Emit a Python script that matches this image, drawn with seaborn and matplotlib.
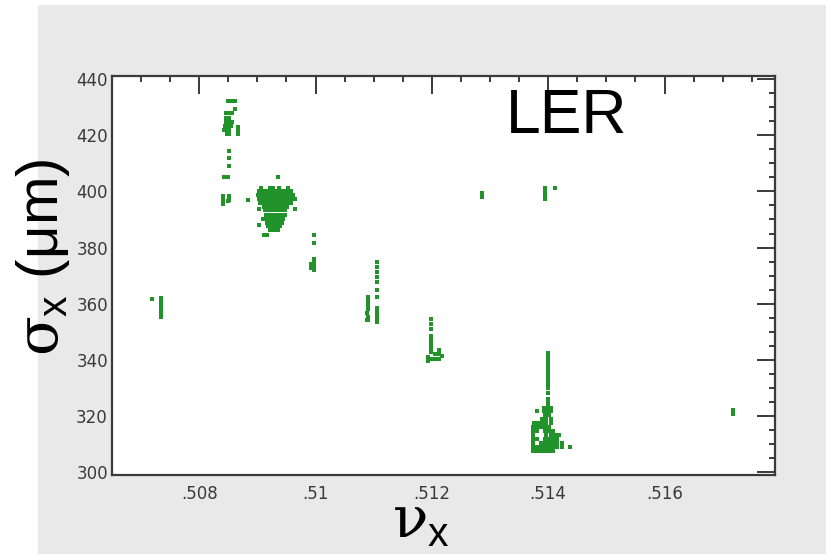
import matplotlib
matplotlib.use("Agg")
import matplotlib.pyplot as plt
import pandas as pd
import seaborn as sns
from matplotlib.patches import Rectangle
from matplotlib.ticker import MultipleLocator

# ---- measured beam size vs horizontal tune (LER) ----
# isolated groups: horizontal tune and beam size (um)
nu_a = [.50719, .50735, .50735, .50735, .50735, .50735, .50735]
sig_a = [361.5, 362.0, 360.6, 359.2, 357.8, 356.4, 355.3]

nu_b = [.50849, .50855, .50861, .50861, .50846, .50851, .50856,
        .50846, .50851, .50846, .50851, .50856, .50844, .50849, .50854,
        .50842, .50847, .50852, .50866, .50847, .50852, .50866, .50866,
        .50851, .50851, .50851, .50843, .50850,
        .50841, .50841, .50841, .50852, .50852, .50849, .50884]
sig_b = [432.3, 432.3, 432.3, 429.4, 428.0, 428.0, 428.0,
         426.2, 426.2, 424.7, 424.7, 424.7, 423.3, 423.3, 423.3,
         421.9, 421.9, 421.9, 421.9, 420.5, 420.5, 420.5, 423.0,
         414.4, 412.0, 408.9, 405.0, 405.0,
         398.3, 397.0, 395.6, 398.2, 396.8, 396.5, 397.0]

# dense group near .5092, one row of tunes per beam-size level
sig_c_rows = [401.2, 400.0, 398.8, 397.4, 396.0, 394.6, 393.2,
              391.7, 390.3, 388.9, 387.5, 386.3, 384.6]
nu_c_rows = [
    [.50906, .50921, .50926, .50937, .50952],
    [.50903, .50909, .50916, .50923, .50930, .50937, .50944, .50951, .50957],
    [.50901, .50908, .50915, .50921, .50928, .50935, .50942, .50949, .50956, .50961],
    [.50903, .50909, .50916, .50923, .50930, .50937, .50944, .50951, .50957, .50964],
    [.50904, .50911, .50918, .50925, .50932, .50939, .50945, .50952, .50957],
    [.50911, .50918, .50925, .50932, .50939, .50945, .50951],
    [.50913, .50920, .50927, .50933, .50940, .50947],
    [.50915, .50921, .50928, .50935, .50942, .50947],
    [.50909, .50916, .50923, .50930, .50937, .50944],
    [.50916, .50923, .50930, .50937, .50942],
    [.50918, .50925, .50932, .50939],
    [.50921, .50928, .50935],
    [.50911, .50916],
]
nu_c_extra = [.50935, .50903, .50903, .50964]
sig_c_extra = [405.0, 393.9, 388.2, 393.9]

nu_d = [.50998, .50998, .50998, .50998, .50998, .50998, .50993, .50993]
sig_d = [384.6, 381.6, 376.1, 374.7, 373.3, 371.9, 374.0, 372.6]

nu_e = [.51105, .51105, .51105, .51105, .51105, .51105, .51105,
        .51105, .51105, .51105, .51105, .51105,
        .51091, .51091, .51091, .51091, .51088, .51091, .51088, .51091]
sig_e = [374.7, 372.9, 371.2, 369.4, 367.6, 364.8, 362.3,
         358.4, 357.0, 355.6, 354.2, 353.4,
         362.3, 360.9, 359.5, 358.1, 356.6, 355.2, 354.3, 354.3]

nu_f = [.51198, .51198, .51198, .51198, .51198, .51198, .51198, .51198,
        .51205, .51213, .51213, .51193, .51198, .51203, .51208, .51213,
        .51193, .51217]
sig_f = [354.7, 352.8, 351.0, 348.5, 347.1, 345.7, 344.3, 342.9,
         342.0, 343.5, 342.1, 341.0, 340.3, 340.3, 340.3, 340.3,
         339.6, 341.5]

nu_g = [.51287, .51287, .51395, .51395, .51395, .51395, .51412]
sig_g = [399.3, 398.0, 401.3, 399.9, 398.5, 397.4, 401.2]

# group near .514: vertical streak plus dense foot
nu_h_streak = [.51399] * 14
sig_h_streak = [342.6, 341.3, 339.9, 338.5, 337.1, 335.7, 334.2,
                332.8, 331.4, 330.0, 328.3, 326.2, 324.8, 323.6]
sig_h_rows = [322.9, 321.8, 320.4, 319.0, 317.6, 316.1, 314.7,
              313.3, 311.9, 310.5, 309.0, 307.6]
nu_h_rows = [
    [.51393, .51400, .51405],
    [.51380, .51393, .51400, .51405],
    [.51395, .51402],
    [.51390, .51397, .51404],
    [.51376, .51383, .51390, .51397, .51404],
    [.51374, .51381, .51388, .51395, .51402],
    [.51374, .51381, .51395, .51402, .51409],
    [.51374, .51397, .51404, .51411, .51418],
    [.51374, .51381, .51395, .51402, .51409, .51416],
    [.51374, .51388, .51395, .51402, .51409, .51416, .51423],
    [.51374, .51381, .51388, .51395, .51402, .51409, .51416, .51423, .51438],
    [.51374, .51381, .51388, .51395, .51402, .51409],
]

nu_j = [.51718, .51718]
sig_j = [322.0, 320.9]

xtick_vals = [.508, .510, .512, .514, .516]
xtick_labels = [".508", ".51", ".512", ".514", ".516"]
ytick_vals = [300, 320, 340, 360, 380, 400, 420, 440]

# ---- assemble one table of points ----
nu_all, sig_all = [], []
for xs, ys in [(nu_a, sig_a), (nu_b, sig_b), (nu_c_extra, sig_c_extra),
               (nu_d, sig_d), (nu_e, sig_e), (nu_f, sig_f), (nu_g, sig_g),
               (nu_h_streak, sig_h_streak), (nu_j, sig_j)]:
    nu_all += xs
    sig_all += ys
for level, row in zip(sig_c_rows, nu_c_rows):
    nu_all += row
    sig_all += [level] * len(row)
for level, row in zip(sig_h_rows, nu_h_rows):
    nu_all += row
    sig_all += [level] * len(row)
df = pd.DataFrame({"nu_x": nu_all, "sigma_x": sig_all})

# ---- styling ----
sns.set_theme(style="white")
plt.rcParams["font.family"] = ["DejaVu Sans"]
plt.rcParams["mathtext.fontset"] = "custom"
plt.rcParams["mathtext.it"] = "DejaVu Serif"
plt.rcParams["mathtext.rm"] = "Liberation Sans"
plt.rcParams["mathtext.sf"] = "Liberation Sans"

W, H = 826, 554
fig = plt.figure(figsize=(W / 100, H / 100), dpi=100)
fig.patch.set_facecolor("white")
fig.add_artist(Rectangle((38 / W, 0), (W - 38) / W, 549 / H,
                         transform=fig.transFigure, facecolor="#e9e9e9",
                         edgecolor="none", zorder=-10))

ax = fig.add_axes([112 / W, (H - 475) / H, 663 / W, 399.3 / H])
ax.set_facecolor("white")

sns.scatterplot(data=df, x="nu_x", y="sigma_x", marker="s", s=11.5,
                color="#22922b", linewidth=0, ax=ax, legend=False)

ax.set_xlim(.5065, .5179)
ax.set_ylim(299.0, 441.2)
ax.set_xticks(xtick_vals)
ax.set_xticklabels(xtick_labels)
ax.set_yticks(ytick_vals)
ax.xaxis.set_minor_locator(MultipleLocator(0.0005))
ax.yaxis.set_minor_locator(MultipleLocator(5))

axis_col = "#3a3a3a"
ax.tick_params(which="both", direction="in", top=True, right=True,
               color=axis_col)
ax.tick_params(which="major", length=13, width=1.4, labelsize=12,
               labelcolor=axis_col)
ax.tick_params(which="minor", length=4.3, width=1.4)
ax.tick_params(axis="x", which="major", pad=7)
ax.tick_params(axis="y", which="major", pad=3)
for sp in ax.spines.values():
    sp.set_visible(True)
    sp.set_linewidth(1.6)
    sp.set_color(axis_col)

ax.set_xlabel(r"$\nu_\mathsf{x}$", fontsize=42, color="black")
ax.xaxis.set_label_coords(0.466, -0.043)
ax.set_ylabel(r"$\sigma_\mathsf{x}$ (μm)", fontsize=42, color="black",
              family="Liberation Sans")
ax.yaxis.set_label_coords(-0.06, 0.545)

ax.text(0.594, 0.856, "LER", transform=ax.transAxes, fontsize=45,
        family="Liberation Sans", color="black", ha="left", va="baseline")

fig.savefig("out.png", dpi=100)
